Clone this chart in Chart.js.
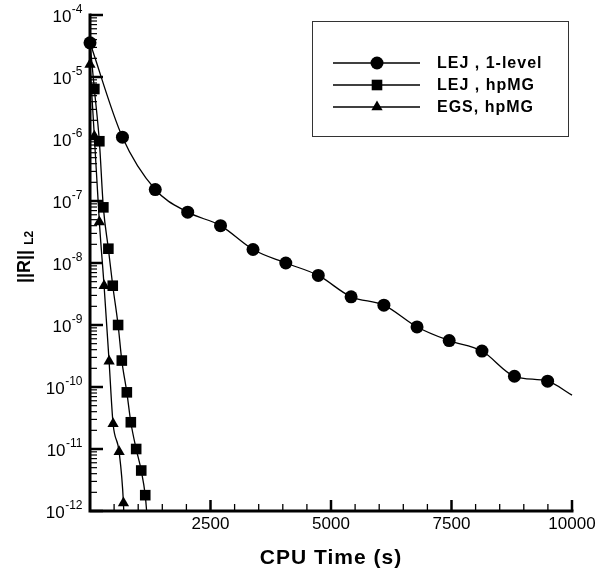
<!DOCTYPE html>
<html><head><meta charset="utf-8">
<script src="https://cdn.jsdelivr.net/npm/chart.js@4/dist/chart.umd.min.js"></script>
<style>html,body{margin:0;padding:0;background:#fff}#wrap{width:600px;height:575px}</style>
</head><body><div id="wrap"><canvas id="c" width="600" height="575"></canvas></div>
<script>
// ---- data ----
const seriesNames = ['LEJ , 1-level', 'LEJ , hpMG', 'EGS, hpMG'];

const lej1Time = [0, 673, 1354, 2027, 2708, 3382, 4062, 4736, 5417, 6097, 6785, 7452, 8132, 8806, 9494, 10000];
const lej1Res  = [3.56e-5, 1.07e-6, 1.53e-7, 6.6e-8, 4.0e-8, 1.65e-8, 1.0e-8, 6.3e-9, 2.85e-9, 2.09e-9, 9.3e-10, 5.6e-10, 3.8e-10, 1.49e-10, 1.24e-10, 7.4e-11];

const lejMgTime = [0, 90, 194, 277, 381, 472, 583, 660, 764, 847, 958, 1063, 1146, 1175];
const lejMgRes  = [3.56e-5, 6.4e-6, 9.2e-7, 7.9e-8, 1.7e-8, 4.3e-9, 1.0e-9, 2.67e-10, 8.2e-11, 2.7e-11, 1.0e-11, 4.5e-12, 1.8e-12, 1e-12];

const egsMgTime = [0, 90, 194, 292, 396, 479, 604, 694, 700];
const egsMgRes  = [1.59e-5, 1.11e-6, 4.6e-8, 4.3e-9, 2.6e-10, 2.55e-11, 9.0e-12, 1.35e-12, 1e-12];

const xTickLabels = [2500, 5000, 7500, 10000];
const xMinorStep = 500;
const yTickExponents = [-4, -5, -6, -7, -8, -9, -10, -11, -12];
const xAxisTitle = 'CPU Time (s)';
const yAxisTitle = '||R||';
const yAxisSub = 'L2';

// ---- build ----
function pts(xs, ys) { return xs.map((x, i) => ({x: x, y: ys[i]})); }
function radii(n, r, hideFirst, hideLast) {
  return Array.from({length: n}, (_, i) => ((hideFirst && i === 0) || (hideLast && i === n - 1)) ? 0 : r);
}

const FONT = '"Liberation Sans", Arial, Helvetica, sans-serif';

const datasets = [
  {label: seriesNames[0], data: pts(lej1Time, lej1Res), pointStyle: 'circle', pointRadius: radii(lej1Time.length, 6.5, false, true)},
  {label: seriesNames[1], data: pts(lejMgTime, lejMgRes), pointStyle: 'rect', pointRadius: radii(lejMgTime.length, 7.5, true, true)},
  {label: seriesNames[2], data: pts(egsMgTime, egsMgRes), pointStyle: 'triangle', pointRadius: radii(egsMgTime.length, 6.5, false, true)}
].map(d => Object.assign({
  borderColor: '#000', backgroundColor: '#000', pointBackgroundColor: '#000', pointBorderColor: '#000',
  pointBorderWidth: 0, pointHoverRadius: 0, borderWidth: 1.3, cubicInterpolationMode: 'monotone', clip: 12
}, d));

function drawMarker(ctx, style, x, y, r) {
  ctx.beginPath();
  if (style === 'circle') { ctx.arc(x, y, r, 0, Math.PI * 2); }
  else if (style === 'rect') { const s = r * Math.SQRT1_2; ctx.rect(x - s, y - s, 2 * s, 2 * s); }
  else {
    let a = 0;
    for (let k = 0; k < 3; k++) {
      const px = x + Math.sin(a) * r, py = y - Math.cos(a) * r;
      if (k === 0) ctx.moveTo(px, py); else ctx.lineTo(px, py);
      a += Math.PI * 2 / 3;
    }
    ctx.closePath();
  }
  ctx.fill();
}

const axesPlugin = {
  id: 'axesPlugin',
  beforeDatasetsDraw(chart) {
    const ctx = chart.ctx, xs = chart.scales.x, ys = chart.scales.y, a = chart.chartArea;
    ctx.save();
    ctx.strokeStyle = '#000'; ctx.fillStyle = '#000';
    yTickExponents.forEach(e => {
      const py = ys.getPixelForValue(Math.pow(10, e));
      ctx.lineWidth = 2.5;
      ctx.beginPath(); ctx.moveTo(a.left, py); ctx.lineTo(a.left + 13, py); ctx.stroke();
      if (e < yTickExponents[0]) {
        ctx.lineWidth = 1.2;
        for (let m = 2; m <= 9; m++) {
          const q = ys.getPixelForValue(m * Math.pow(10, e));
          ctx.beginPath(); ctx.moveTo(a.left, q); ctx.lineTo(a.left + 7, q); ctx.stroke();
        }
      }
    });
    const xmax = xTickLabels[xTickLabels.length - 1];
    for (let v = xMinorStep; v <= xmax; v += xMinorStep) {
      const px = xs.getPixelForValue(v);
      const major = xTickLabels.indexOf(v) >= 0;
      ctx.lineWidth = major ? 2.5 : 1.3;
      ctx.beginPath(); ctx.moveTo(px, a.bottom); ctx.lineTo(px, a.bottom - (major ? 11 : 7)); ctx.stroke();
    }
    ctx.lineWidth = 3; ctx.lineCap = 'square';
    ctx.beginPath(); ctx.moveTo(a.left, a.top); ctx.lineTo(a.left, a.bottom); ctx.lineTo(a.right, a.bottom); ctx.stroke();
    ctx.lineCap = 'butt';
    yTickExponents.forEach(e => {
      const py = ys.getPixelForValue(Math.pow(10, e));
      ctx.font = '17px ' + FONT;
      const w1 = ctx.measureText('10').width;
      ctx.font = '12px ' + FONT;
      const sup = String(e);
      const w2 = ctx.measureText(sup).width;
      const x0 = a.left - 8 - w1 - w2;
      ctx.textAlign = 'left'; ctx.textBaseline = 'middle';
      ctx.font = '17px ' + FONT; ctx.fillText('10', x0, py + 2);
      ctx.font = '12px ' + FONT; ctx.fillText(sup, x0 + w1 + 0.5, py - 5);
    });
    ctx.font = '17px ' + FONT; ctx.textAlign = 'center'; ctx.textBaseline = 'middle';
    xTickLabels.forEach(v => ctx.fillText(String(v), xs.getPixelForValue(v), a.bottom + 13));
    ctx.font = 'bold 21px ' + FONT;
    ctx.letterSpacing = '1px';
    ctx.fillText(xAxisTitle, (a.left + a.right) / 2, a.bottom + 47);
    ctx.letterSpacing = '0px';
    ctx.save();
    ctx.translate(30, 283);
    ctx.rotate(-Math.PI / 2);
    ctx.textAlign = 'left'; ctx.textBaseline = 'alphabetic';
    ctx.font = 'bold 18px ' + FONT;
    const wt = ctx.measureText(yAxisTitle).width;
    ctx.fillText(yAxisTitle, 0, 0);
    ctx.font = 'bold 12px ' + FONT;
    ctx.fillText(yAxisSub, wt + 5, 3);
    ctx.restore();
    ctx.restore();
  },
  afterDatasetsDraw(chart) {
    const ctx = chart.ctx;
    ctx.save();
    ctx.strokeStyle = '#333'; ctx.lineWidth = 1;
    ctx.strokeRect(312.5, 21.5, 256, 115);
    const rows = [63, 85, 107];
    chart.data.datasets.forEach((d, i) => {
      const y = rows[i];
      ctx.strokeStyle = '#000'; ctx.fillStyle = '#000'; ctx.lineWidth = 1.3;
      ctx.beginPath(); ctx.moveTo(333, y); ctx.lineTo(420, y); ctx.stroke();
      drawMarker(ctx, d.pointStyle, 377, y, d.pointStyle === 'rect' ? 7.5 : 6.5);
      ctx.font = 'bold 16px ' + FONT; ctx.textAlign = 'left'; ctx.textBaseline = 'middle';
      ctx.letterSpacing = '1px';
      ctx.fillText(d.label, 437, y + 1);
      ctx.letterSpacing = '0px';
    });
    ctx.restore();
  }
};

new Chart(document.getElementById('c'), {
  type: 'line',
  data: {datasets: datasets},
  options: {
    responsive: false, animation: false, events: [],
    layout: {padding: {left: 90, top: 15, right: 28, bottom: 64}},
    plugins: {legend: {display: false}, tooltip: {enabled: false}},
    scales: {
      x: {type: 'linear', min: 0, max: 10000, display: false},
      y: {type: 'logarithmic', min: 1e-12, max: 1e-4, display: false}
    }
  },
  plugins: [axesPlugin]
});
</script></body></html>
